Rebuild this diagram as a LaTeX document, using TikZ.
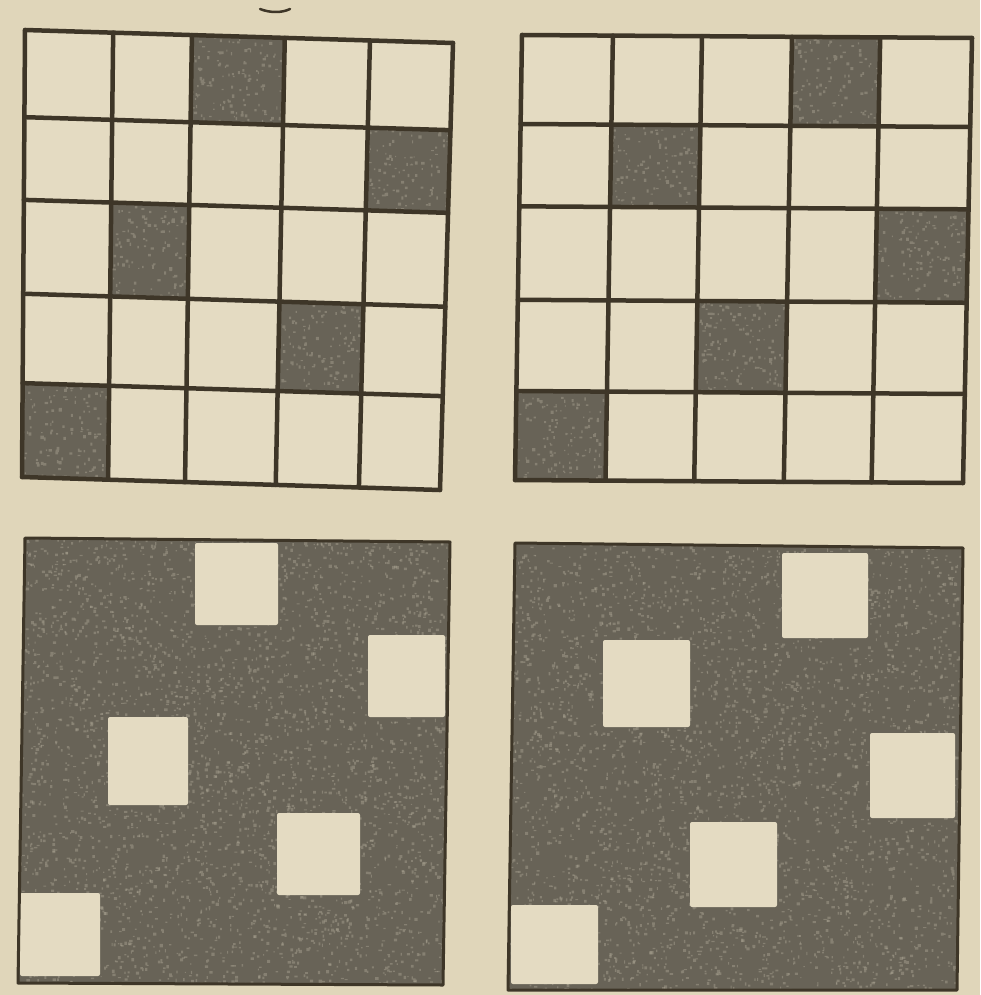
\documentclass[tikz,border=0pt]{standalone}
\usetikzlibrary{calc}
\definecolor{paper}{RGB}{224,214,186}
\definecolor{cell}{RGB}{228,219,194}
\definecolor{ink}{RGB}{62,54,40}
\definecolor{darkfill}{RGB}{104,99,87}
\definecolor{speck}{RGB}{176,170,152}
\newcommand{\quadpts}[5]{%
 \coordinate (q1) at ($($(#1tl)!#2!(#1tr)$)!#4!($(#1bl)!#2!(#1br)$)$);
 \coordinate (q2) at ($($(#1tl)!#3!(#1tr)$)!#4!($(#1bl)!#3!(#1br)$)$);
 \coordinate (q3) at ($($(#1tl)!#3!(#1tr)$)!#5!($(#1bl)!#3!(#1br)$)$);
 \coordinate (q4) at ($($(#1tl)!#2!(#1tr)$)!#5!($(#1bl)!#2!(#1br)$)$);}
% #1 chunks, #2 per chunk, #3 half size
\newcommand{\shadequad}[3]{%
 \coordinate (qc) at ($(q1)!0.5!(q3)$);
 \begin{scope}
 \clip (q1)--(q2)--(q3)--(q4)--cycle;
 \fill[darkfill] (q1)--(q2)--(q3)--(q4)--cycle;
 \foreach \j in {1,...,#1}{
 \fill[speck,opacity=0.42] \foreach \i in {1,...,#2}{
   ($(qc)+({(2*rnd-1)*#3},{(2*rnd-1)*#3})$) rectangle +({1+2.4*rnd},{1+2.4*rnd})
 };}
 \end{scope}}
\newcommand{\topgrid}[4]{%
  \fill[cell] (#1tl)--(#1tr)--(#1br)--(#1bl)--cycle;
  \foreach \r in {0,...,4}{%
    \pgfmathtruncatemacro\cc{#4[\r]}%
    \pgfmathtruncatemacro\cn{\cc+1}%
    \pgfmathtruncatemacro\rn{\r+1}%
    \pgfmathsetmacro\ua{#2[\cc]}%
    \pgfmathsetmacro\ub{#2[\cn]}%
    \pgfmathsetmacro\va{#3[\r]}%
    \pgfmathsetmacro\vb{#3[\rn]}%
    \quadpts{#1}{\ua}{\ub}{\va}{\vb}%
    \shadequad{1}{200}{55}%
  }
  \foreach \k in {0,...,5}{%
    \pgfmathsetmacro\uk{#2[\k]}%
    \pgfmathsetmacro\vk{#3[\k]}%
    \draw[gridline] ($(#1tl)!\uk!(#1tr)$) -- ($(#1bl)!\uk!(#1br)$);
    \draw[gridline] ($(#1tl)!\vk!(#1bl)$) -- ($(#1tr)!\vk!(#1br)$);
  }}
\def\colsA{{0,0.206,0.39,0.607,0.806,1}}
\def\rowsA{{0,0.195,0.38,0.59,0.79,1}}
\def\darkA{{2,4,1,3,0}}
\def\colsB{{0,0.202,0.4,0.6,0.796,1}}
\def\rowsB{{0,0.2,0.385,0.595,0.8,1}}
\def\darkB{{3,1,4,2,0}}
\begin{document}
\begin{tikzpicture}[x=1pt,y=-1pt,
  gridline/.style={draw=ink,line width=4.5pt,line cap=round},
  border/.style={draw=ink,line width=3pt,line join=round},
  lightsq/.style={fill=cell,rounded corners=2pt}]
\pgfmathsetseed{7}
\fill[paper] (0,0) rectangle (980,995);
\useasboundingbox (0,0) rectangle (980,995);
% corners
\coordinate (Atl) at (25,30);  \coordinate (Atr) at (453,43);
\coordinate (Abr) at (440,490); \coordinate (Abl) at (22,477);
\coordinate (Btl) at (522,35); \coordinate (Btr) at (972,38);
\coordinate (Bbr) at (963,483); \coordinate (Bbl) at (515,480);
\coordinate (Ctl) at (25,538); \coordinate (Ctr) at (450,542);
\coordinate (Cbr) at (443,985); \coordinate (Cbl) at (18,983);
\coordinate (Dtl) at (515,543); \coordinate (Dtr) at (963,548);
\coordinate (Dbr) at (957,990); \coordinate (Dbl) at (508,990);
% top grids
\topgrid{A}{\colsA}{\rowsA}{\darkA}
\topgrid{B}{\colsB}{\rowsB}{\darkB}
% bottom-left
\coordinate (q1) at (Ctl); \coordinate (q2) at (Ctr);
\coordinate (q3) at (Cbr); \coordinate (q4) at (Cbl);
\shadequad{4}{1000}{235}
\fill[lightsq] (195,543) rectangle (278,625);
\fill[lightsq] (368,635) rectangle (445,717);
\fill[lightsq] (108,717) rectangle (188,805);
\fill[lightsq] (277,813) rectangle (360,895);
\fill[lightsq] (20,893) rectangle (100,976);
\draw[border] (Ctl)--(Ctr)--(Cbr)--(Cbl)--cycle;
% bottom-right
\coordinate (q1) at (Dtl); \coordinate (q2) at (Dtr);
\coordinate (q3) at (Dbr); \coordinate (q4) at (Dbl);
\shadequad{4}{1000}{240}
\fill[lightsq] (782,553) rectangle (868,638);
\fill[lightsq] (603,640) rectangle (690,727);
\fill[lightsq] (870,733) rectangle (955,818);
\fill[lightsq] (690,822) rectangle (777,907);
\fill[lightsq] (511,905) rectangle (598,984);
\draw[border] (Dtl)--(Dtr)--(Dbr)--(Dbl)--cycle;
% small mark at top
\draw[ink,line width=2.5pt,line cap=round] (260,9) .. controls (270,13) and (282,13) .. (290,9);
\end{tikzpicture}
\end{document}
